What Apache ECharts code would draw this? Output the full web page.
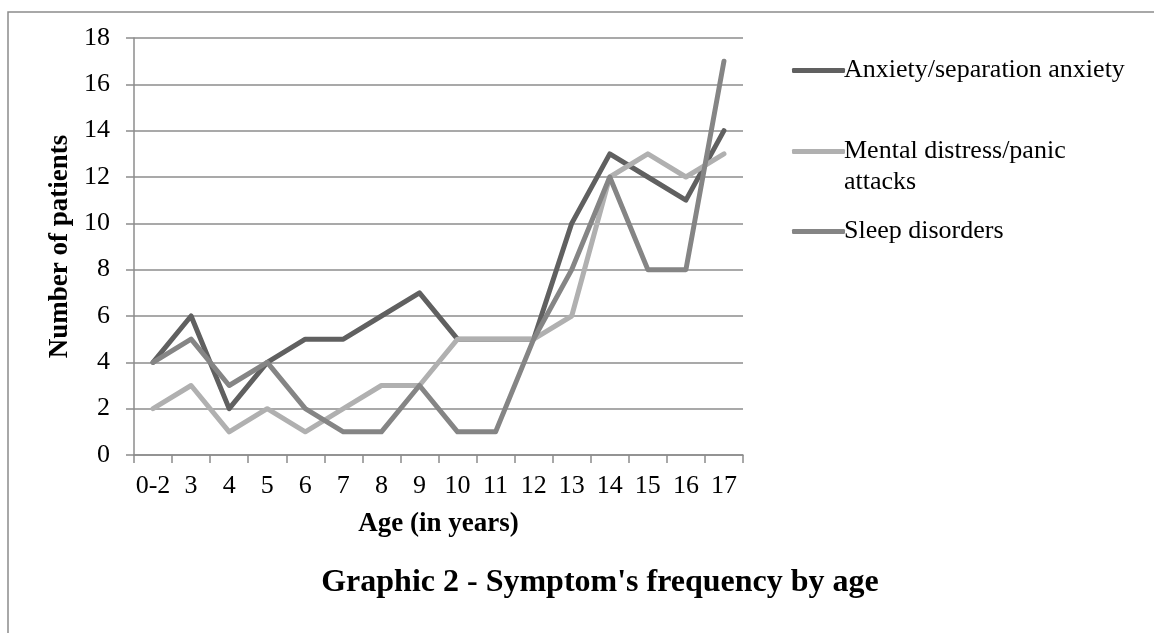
<!DOCTYPE html>
<html>
<head>
<meta charset="utf-8">
<script src="https://cdn.jsdelivr.net/npm/echarts@6/dist/echarts.min.js"></script>
<style>
  html, body { margin: 0; padding: 0; background: #fff; }
  #chart { width: 1154px; height: 633px; }
</style>
</head>
<body>
<div id="chart"></div>
<script>
const ages = ['0-2', '3', '4', '5', '6', '7', '8', '9', '10', '11', '12', '13', '14', '15', '16', '17']
const anxiety = [4, 6, 2, 4, 5, 5, 6, 7, 5, 5, 5, 10, 13, 12, 11, 14]
const distress = [2, 3, 1, 2, 1, 2, 3, 3, 5, 5, 5, 6, 12, 13, 12, 13]
const sleep = [4, 5, 3, 4, 2, 1, 1, 3, 1, 1, 5, 8, 12, 8, 8, 17]
const yTicks = { min: 0, max: 18, interval: 2 }

const font = '"Liberation Serif", "Times New Roman", serif'
const gridGray = '#8c8c8c'

const chart = echarts.init(document.getElementById('chart'))

const lineSeries = (name, data, color) => ({
  name,
  type: 'line',
  data,
  symbol: 'none',
  lineStyle: { color, width: 5, cap: 'round', join: 'round' },
  itemStyle: { color },
  emphasis: { disabled: true }
})

const legendItem = (name, top) => ({
  data: [name],
  left: 787,
  top,
  orient: 'vertical',
  itemWidth: 53,
  itemHeight: 5,
  selectedMode: false,
  icon: 'roundRect',
  textStyle: { fontFamily: font, fontSize: 26, lineHeight: 31, color: '#000', padding: [0, 0, 0, -6] }
})

chart.setOption({
  animation: false,
  title: {
    text: "Graphic 2 - Symptom's frequency by age",
    left: 595,
    top: 562,
    textAlign: 'center',
    textStyle: { fontFamily: font, fontSize: 32, fontWeight: 'bold', color: '#000' }
  },
  legend: [
    legendItem('Anxiety/separation anxiety', 50),
    // blank first line keeps the icon level with the first text line
    Object.assign(legendItem('Mental distress/panic attacks', 100), {
      formatter: () => '\nMental distress/panic\nattacks'
    }),
    legendItem('Sleep disorders', 211)
  ],
  graphic: [{
    type: 'rect',
    shape: { x: 8, y: 12, width: 1300, height: 800 },
    style: { fill: 'none', stroke: gridGray, lineWidth: 1.5 },
    silent: true
  }],
  grid: { left: 134, top: 38, width: 609, height: 417 },
  xAxis: {
    type: 'category',
    data: ages,
    boundaryGap: true,
    name: 'Age (in years)',
    nameLocation: 'middle',
    nameGap: 56,
    nameTextStyle: { fontFamily: font, fontSize: 27, fontWeight: 'bold', color: '#000' },
    axisLine: { lineStyle: { color: gridGray, width: 1.5 } },
    axisTick: { show: true, length: 8, alignWithLabel: false, lineStyle: { color: gridGray, width: 1.5 } },
    axisLabel: { fontFamily: font, fontSize: 26, color: '#000', margin: 18, interval: 0 },
    splitLine: { show: false }
  },
  yAxis: {
    type: 'value',
    min: yTicks.min,
    max: yTicks.max,
    interval: yTicks.interval,
    name: 'Number of patients',
    nameLocation: 'middle',
    nameGap: 58,
    nameTextStyle: { fontFamily: font, fontSize: 27, fontWeight: 'bold', color: '#000' },
    axisLine: { show: true, lineStyle: { color: gridGray, width: 1.5 } },
    axisTick: { show: true, length: 8, lineStyle: { color: gridGray, width: 1.5 } },
    axisLabel: { fontFamily: font, fontSize: 26, color: '#000', margin: 24 },
    splitLine: { show: true, lineStyle: { color: gridGray, width: 1.5 } }
  },
  series: [
    lineSeries('Anxiety/separation anxiety', anxiety, '#606060'),
    lineSeries('Mental distress/panic attacks', distress, '#b0b0b0'),
    lineSeries('Sleep disorders', sleep, '#858585')
  ]
})
</script>
</body>
</html>
